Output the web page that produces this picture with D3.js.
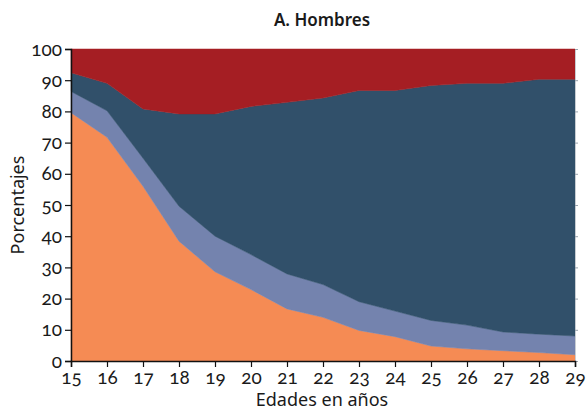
<!DOCTYPE html>
<html><head><meta charset="utf-8">
<script src="https://cdn.jsdelivr.net/npm/d3@7"></script>
<style>
body{margin:0;background:#fff;}
svg text{font-family:"Noto Sans","Open Sans",sans-serif;fill:#1a1a1a;}
svg .tick text{font-family:"Lato","Noto Sans",sans-serif;font-feature-settings:"onum" 1;font-variant-numeric:oldstyle-nums;}
</style></head><body>
<svg id="c" width="586" height="416"></svg>
<script>
const edades = [15,16,17,18,19,20,21,22,23,24,25,26,27,28,29];
const soloEstudia = [79.6,71.7,56.0,38.4,28.6,22.9,16.7,14.0,9.8,7.8,4.8,3.9,3.3,2.7,2.0];
const estudiaTrabaja = [6.8,8.5,9.0,11.2,11.4,11.2,11.2,10.5,9.2,8.2,8.2,7.6,6.0,5.9,6.0];
const soloTrabaja = [6.0,8.8,15.8,29.6,39.2,47.5,55.0,59.8,67.7,70.7,75.3,77.5,79.7,81.7,82.3];
const niEstudiaNiTrabaja = [7.6,11.0,19.2,20.8,20.8,18.4,17.1,15.7,13.3,13.3,11.7,11.0,11.0,9.7,9.7];
const yTicks = [0,10,20,30,40,50,60,70,80,90,100];
const seriesNames = ["soloEstudia","estudiaTrabaja","soloTrabaja","niEstudiaNiTrabaja"];
const colores = ["#f58b54","#7483ae","#31506a","#a51e23"];

const rows = edades.map((e,i)=>({edad:e, soloEstudia:soloEstudia[i], estudiaTrabaja:estudiaTrabaja[i], soloTrabaja:soloTrabaja[i], niEstudiaNiTrabaja:niEstudiaNiTrabaja[i]}));
const stack = d3.stack().keys(seriesNames)(rows);

const svg = d3.select("#c");
const L=71, R=575, T=49, B=361;
const x = d3.scaleLinear().domain([15,29]).range([L,R]);
const y = d3.scaleLinear().domain([0,100]).range([B,T]);

const area = d3.area().x(d=>x(d.data.edad)).y0(d=>y(d[0])).y1(d=>y(d[1]));
svg.append("g").selectAll("path").data(stack).join("path")
  .attr("d",area).attr("fill",(d,i)=>colores[i])
  .attr("stroke",(d,i)=>colores[i]).attr("stroke-width",0.5);

// right light axis
const yr = svg.append("g").attr("transform",`translate(${R},0)`)
  .call(d3.axisRight(y).tickValues(yTicks).tickSize(3).tickFormat(""));
yr.select(".domain").attr("stroke","#c8cdd3");
yr.selectAll(".tick line").attr("stroke","#9aa3ad");

const yl = svg.append("g").attr("transform",`translate(${L},0)`)
  .call(d3.axisLeft(y).tickValues(yTicks).tickSize(6).tickPadding(3));
yl.select(".domain").attr("stroke","#111").attr("stroke-width",1.5);
yl.selectAll(".tick line").attr("stroke","#111").attr("stroke-width",1.2);
yl.selectAll("text").style("font-size","19px");

const xa = svg.append("g").attr("transform",`translate(0,${B})`)
  .call(d3.axisBottom(x).tickValues(edades).tickFormat(d3.format("d")).tickSize(6).tickPadding(4));
xa.select(".domain").attr("stroke","#111").attr("stroke-width",1.5);
xa.selectAll(".tick line").attr("stroke","#111").attr("stroke-width",1.2);
xa.selectAll("text").style("font-size","19px");

svg.append("text").attr("x",322).attr("y",26).attr("text-anchor","middle")
  .style("font-size","17px").style("font-weight","600").text("A. Hombres");
svg.append("text").attr("x",322).attr("y",406).attr("text-anchor","middle")
  .style("font-size","18px").text("Edades en años");
svg.append("text").attr("transform","translate(24,205) rotate(-90)").attr("text-anchor","middle")
  .style("font-size","18px").text("Porcentajes");
</script></body></html>
